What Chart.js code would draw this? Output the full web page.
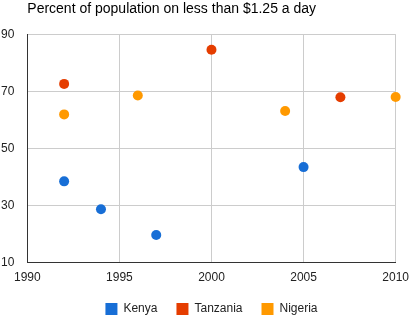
<!DOCTYPE html>
<html>
<head>
<meta charset="utf-8">
<script src="https://cdn.jsdelivr.net/npm/chart.js@4"></script>
<style>
  html, body { margin: 0; padding: 0; background: #fff; }
  #c { display: block; }
</style>
</head>
<body>
<canvas id="c" width="417" height="321"></canvas>
<script>
const titleText = "Percent of population on less than $1.25 a day";
const seriesNames = ["Kenya", "Tanzania", "Nigeria"];
const kenyaYears = [1992, 1994, 1997, 2005];
const kenyaValues = [38.4, 28.6, 19.6, 43.4];
const tanzaniaYears = [1992, 2000, 2007];
const tanzaniaValues = [72.6, 84.6, 67.9];
const nigeriaYears = [1992, 1996, 2004, 2010];
const nigeriaValues = [61.9, 68.5, 63.1, 68.0];
const xTicks = [1990, 1995, 2000, 2005, 2010];
const yTicks = [10, 30, 50, 70, 90];

const colors = ["#176ed6", "#e53d00", "#ff9900"];
const FONT = "'Liberation Sans', Arial, sans-serif";

function pts(xs, ys) { return xs.map((x, i) => ({ x: x, y: ys[i] })); }

const datasets = [
  pts(kenyaYears, kenyaValues),
  pts(tanzaniaYears, tanzaniaValues),
  pts(nigeriaYears, nigeriaValues)
].map((data, i) => ({
  label: seriesNames[i],
  data: data,
  backgroundColor: colors[i],
  borderColor: colors[i],
  borderWidth: 0,
  pointRadius: 5,
  pointHoverRadius: 5,
  clip: false
}));

new Chart(document.getElementById("c"), {
  type: "scatter",
  data: { datasets: datasets },
  options: {
    responsive: false,
    animation: false,
    events: [],
    layout: { padding: { left: 0, right: 20, top: 0, bottom: -4 } },
    scales: {
      x: {
        type: "linear",
        min: xTicks[0],
        max: xTicks[xTicks.length - 1],
        afterBuildTicks: (s) => { s.ticks = xTicks.map(v => ({ value: v })); },
        afterFit: (s) => { s.height = 21.7; },
        ticks: {
          callback: (v) => String(v),
          color: "#222",
          font: { family: FONT, size: 12 },
          padding: 8,
          maxRotation: 0,
          autoSkip: false
        },
        grid: { color: "#cccccc", lineWidth: 1, drawTicks: false },
        border: { color: "#333333", width: 1 }
      },
      y: {
        type: "linear",
        min: yTicks[0],
        max: yTicks[yTicks.length - 1],
        afterBuildTicks: (s) => { s.ticks = yTicks.map(v => ({ value: v })); },
        afterFit: (s) => { s.width = 27.3; },
        ticks: {
          callback: (v) => String(v),
          color: "#222",
          font: { family: FONT, size: 12 },
          padding: 13
        },
        grid: { color: "#cccccc", lineWidth: 1, drawTicks: false },
        border: { color: "#333333", width: 1 }
      }
    },
    plugins: {
      tooltip: { enabled: false },
      title: {
        display: true,
        text: titleText,
        align: "start",
        fullSize: false,
        color: "#000",
        font: { family: FONT, size: 14, weight: "normal" },
        padding: { top: 1, bottom: 16.5 }
      },
      legend: {
        display: true,
        position: "bottom",
        fullSize: false,
        labels: {
          boxWidth: 12,
          boxHeight: 12,
          padding: 19,
          color: "#222",
          font: { family: FONT, size: 12 }
        }
      }
    }
  }
});
</script>
</body>
</html>
